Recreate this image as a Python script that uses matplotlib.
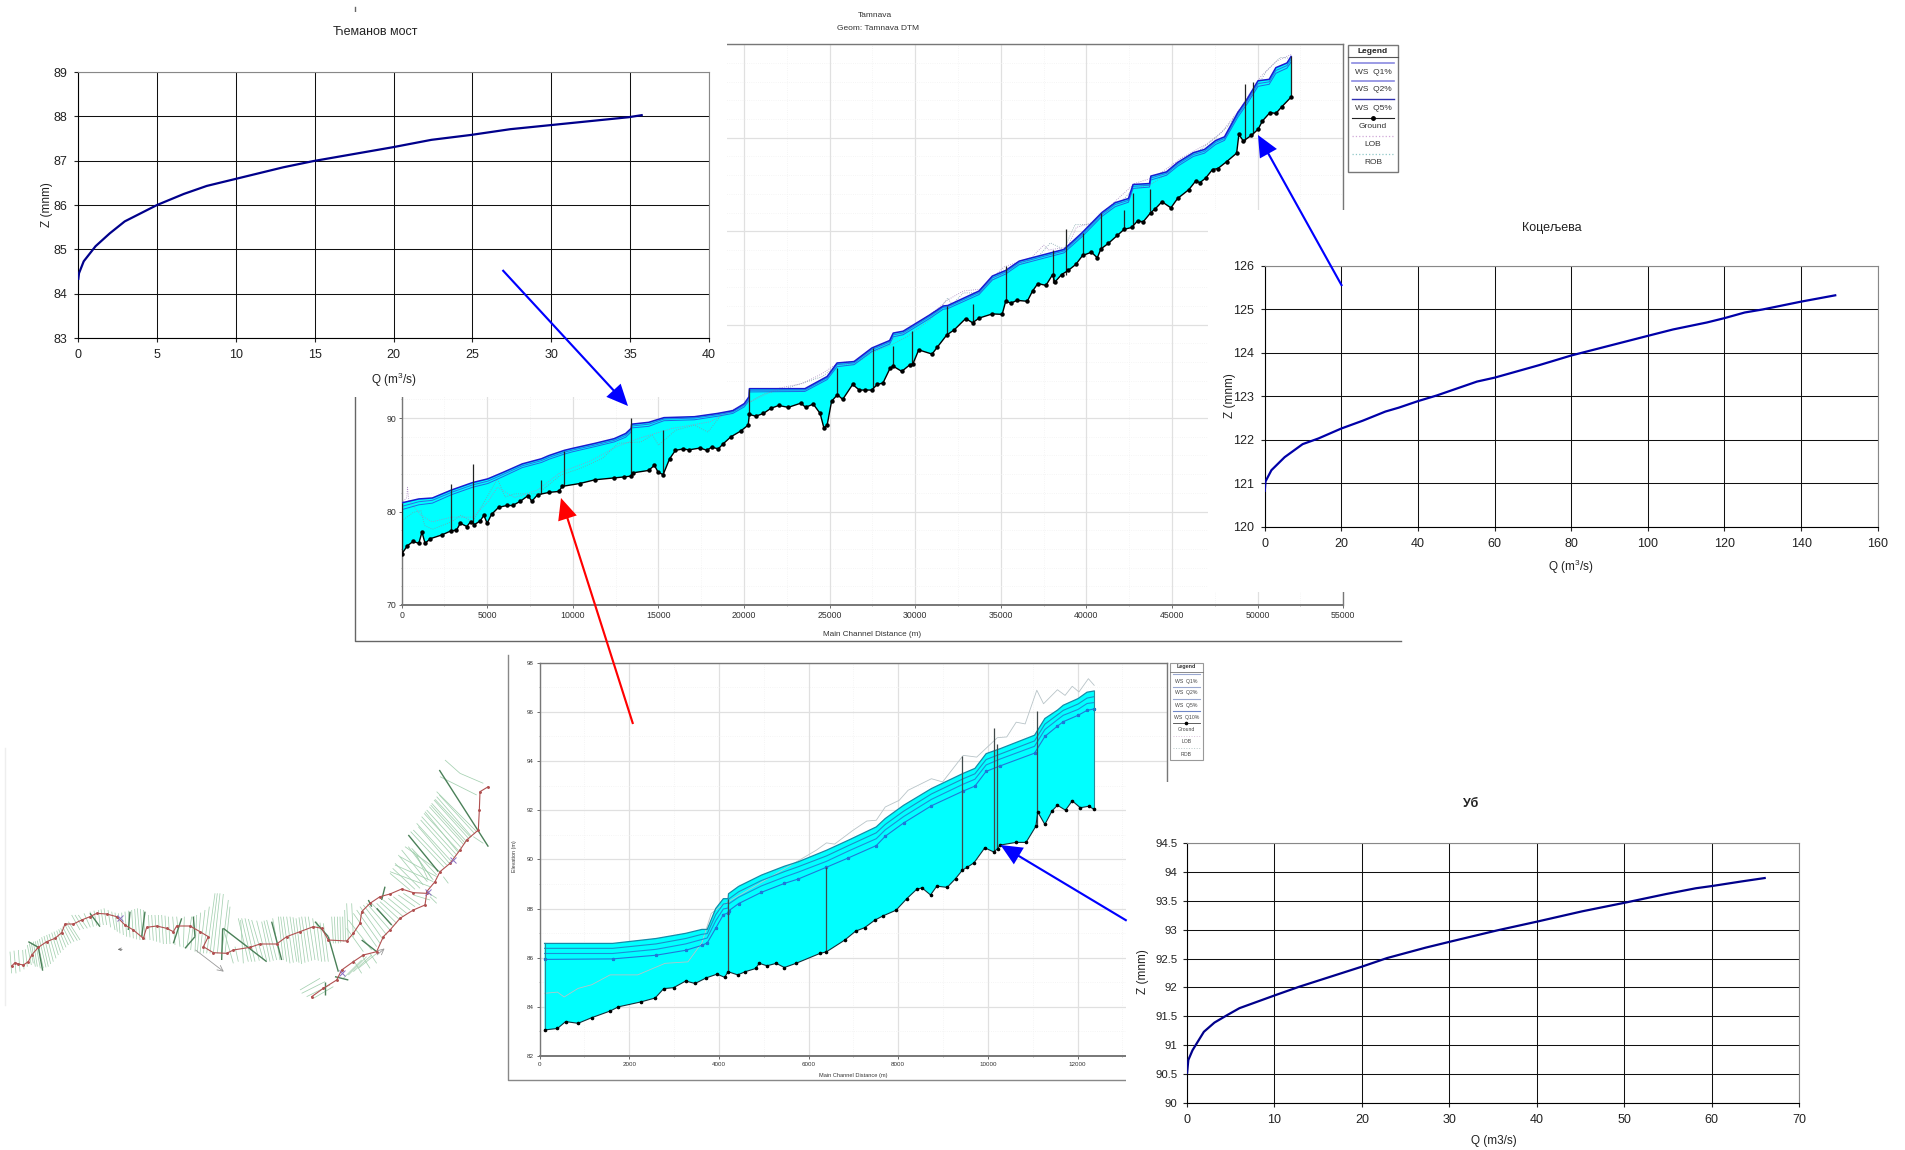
import matplotlib
matplotlib.use('Agg')
import matplotlib.pyplot as plt
from matplotlib.collections import LineCollection
from matplotlib.patches import Rectangle
from matplotlib.ticker import MultipleLocator
import numpy as np

plt.rcParams['font.family'] = ['Liberation Sans', 'DejaVu Sans']
plt.rcParams['mathtext.default'] = 'regular'

W, H = 1906, 1150

# rating curves
cem_q = [0, 0.05, 0.35, 1.1, 2, 2.95, 5, 6.7, 8.15, 10, 13, 14.9, 19.9, 22.4, 24.9, 27.4, 29.9, 34.9, 35.8]
cem_z = [84.31, 84.46, 84.73, 85.07, 85.36, 85.63, 86.0, 86.25, 86.43, 86.59, 86.85, 86.99, 87.3, 87.47, 87.58, 87.71, 87.8, 87.98, 88.03]
koc_q = [0, 0.2, 1.75, 5.2, 9.9, 14, 20, 25.6, 31.5, 35, 40, 44.9, 55.4, 60, 71.7, 80, 99.9, 106.6, 115.4, 120, 125.3, 130, 140, 149.2]
koc_z = [120.8, 121.04, 121.3, 121.6, 121.9, 122.03, 122.26, 122.44, 122.65, 122.74, 122.89, 123.02, 123.34, 123.43, 123.72, 123.94, 124.39, 124.54, 124.7, 124.8, 124.93, 125.0, 125.18, 125.33]
ub_q = [0, 0.15, 0.63, 1.93, 3.14, 4.6, 6, 10, 12.8, 20, 22.9, 27.3, 30, 35.5, 40, 45.2, 50.1, 54.8, 58.2, 60.1, 63.5, 66.2]
ub_z = [90.5, 90.74, 90.91, 91.23, 91.39, 91.52, 91.64, 91.86, 92.01, 92.36, 92.51, 92.69, 92.79, 92.99, 93.14, 93.32, 93.47, 93.62, 93.72, 93.76, 93.84, 93.9]

# Tamnava long profile
tam_ground_x = [0, 335, 670, 1000, 1185, 1365, 1680, 2350, 2900, 3200, 3420, 3800, 4025, 4250, 4585, 4800, 4990, 5250, 5660, 6150, 6485, 6930, 7380, 7600, 7940, 8610, 9170, 9390, 10400, 11290, 12410, 12970, 13420, 13530, 14425, 14760, 14980, 15270, 15650, 15990, 16440, 16770, 17440, 17820, 18110, 18490, 18780, 19230, 19790, 20240, 20305, 20680, 21130, 21570, 22020, 22580, 23320, 23590, 24040, 24440, 24660, 24850,
                25110, 25450, 25760, 26340, 26730, 27070, 27460, 27770, 28110, 28530, 28710, 29210, 29680, 29860, 30200, 30980, 31290, 31840, 32280, 32940, 33350, 33720, 34500, 35075, 35280, 35600, 35930, 36540, 36850, 37160, 37630, 38020, 38150, 38540, 38930, 39380, 39770, 40290, 40630, 40840, 41280, 41800, 42200, 42640, 42980, 43310, 43760, 44020, 44410, 44930, 45320, 45980, 46370, 46630, 46970, 47360, 47670, 48190, 48770, 48900, 49160, 49630, 50020, 50280, 50720, 51060, 51400, 51950]
tam_ground_z = [75.45, 76.35, 76.8, 76.6, 77.8, 76.6, 77.1, 77.5, 77.95, 78, 78.75, 78.4, 78.9, 78.6, 79, 79.6, 78.75, 79.7, 80.45, 80.65, 80.65, 81.1, 81.7, 81.1, 81.8, 82.05, 82.15, 82.7, 83, 83.4, 83.6, 83.7, 83.8, 84.15, 84.4, 84.95, 84.2, 83.95, 85.65, 86.55, 86.7, 86.6, 86.8, 86.55, 86.9, 86.7, 87.25, 88, 88.6, 89.25, 90.4, 90.2, 90.5, 91.05, 91.35, 91.15, 91.6, 91.15, 91.5, 90.5, 88.95, 89.25,
                91.8, 92.5, 92.0, 93.6, 93.0, 93.0, 93.0, 93.6, 93.75, 95.35, 95.55, 95, 95.7, 95.8, 97.3, 96.85, 97.6, 98.9, 99.45, 100.65, 100.2, 100.7, 101.15, 101.1, 102.5, 102.3, 102.6, 102.5, 103.6, 104.4, 104.2, 105.35, 104.55, 105.35, 105.8, 106.45, 107.4, 107.75, 107.15, 108.1, 108.7, 109.55, 110.2, 110.4, 111.1, 111, 112, 112.4, 113.15, 112.5, 113.5, 114.45, 115.35, 115.2, 115.7, 116.6, 116.7, 117.45, 118.35, 120.35, 119.65, 120.25, 120.9, 121.8, 122.7, 122.6, 123.3, 124.35]
tam_ws_x = [0, 1000, 1790, 2900, 4140, 5030, 5930, 7040, 8160, 8610, 9500, 9950, 11290, 12410, 13080, 13400, 13430, 14430, 14870, 15320, 17100, 18450, 19340, 20010, 20290, 20310, 23550, 24850, 25430, 26420, 27460, 28500, 28710, 29290, 30850, 31630, 31900, 33720, 34500, 35280, 36070, 37110, 38680, 39720, 40900, 41670, 42450, 42720, 43680, 43760, 44670, 45320, 46240, 46890, 47540, 48060, 48840, 49370, 50020, 50670, 51060, 51710, 51950]
tam_q1 = [80.93, 81.35, 81.45, 82.3, 83.1, 83.5, 84.2, 85.1, 85.65, 86, 86.55, 86.75, 87.3, 87.8, 88.35, 88.9, 89.35, 89.55, 89.8, 90.05, 90.15, 90.5, 90.8, 91.55, 92.3, 93.15, 93.15, 94.45, 95.9, 96.05, 97.5, 98.3, 99.1, 99.3, 101.05, 102, 102.05, 103.6, 105.2, 105.8, 106.8, 107.3, 108.05, 109.8, 112, 113.05, 113.5, 115, 115.1, 115.9, 116.35, 117.35, 118.4, 118.75, 119.7, 120.1, 122.7, 124.1, 126.1, 126.25, 127.5, 128, 128.7]
tam_q2 = [80.55, 81.05, 81.2, 82.05, 82.85, 83.25, 83.98, 84.9, 85.45, 85.8, 86.35, 86.57, 87.12, 87.62, 88.15, 88.7, 89.15, 89.35, 89.62, 89.9, 90.0, 90.36, 90.66, 91.38, 92.1, 92.98, 93.0, 94.3, 95.72, 95.9, 97.32, 98.12, 98.9, 99.12, 100.88, 101.85, 101.9, 103.42, 105.0, 105.62, 106.62, 107.12, 107.88, 109.6, 111.8, 112.85, 113.3, 114.8, 114.92, 115.7, 116.18, 117.15, 118.2, 118.55, 119.5, 119.92, 122.45, 123.85, 125.8, 125.98, 127.2, 127.72, 128.4]
tam_q5 = [80.2, 80.72, 80.9, 81.8, 82.6, 83.0, 83.75, 84.7, 85.25, 85.6, 86.15, 86.38, 86.95, 87.45, 87.95, 88.5, 88.95, 89.12, 89.42, 89.72, 89.82, 90.2, 90.5, 91.2, 91.9, 92.8, 92.85, 94.12, 95.5, 95.72, 97.12, 97.92, 98.7, 98.92, 100.68, 101.65, 101.72, 103.22, 104.78, 105.42, 106.42, 106.92, 107.68, 109.38, 111.58, 112.62, 113.1, 114.58, 114.72, 115.48, 115.98, 116.95, 118, 118.35, 119.28, 119.72, 122.2, 123.6, 125.5, 125.72, 126.9, 127.45, 128.1]
tam_rob_x = [0, 670, 1120, 1340, 1790, 2900, 3460, 4140, 5030, 5590, 6040, 6600, 7940, 9280, 10400, 11740, 12630, 13970, 14650, 15000, 16000, 17100, 17890, 18560, 19340, 20200, 20680, 21200, 22500, 24590, 25430, 26420, 27460, 28630, 29540, 30850, 31500, 31890, 32150, 32800, 33720, 34500, 35800, 37110, 37890, 38680, 39330, 40240, 41020, 41800, 42720, 43760, 44670, 45450, 46500, 47540, 48190, 48970, 49620, 50540, 51320, 51950]
tam_rob_z = [79, 79.9, 80.1, 78.5, 78.1, 78.9, 79.6, 78.9, 81.7, 83.5, 81.55, 81.9, 81.9, 83.9, 84.6, 85.7, 87.3, 87.45, 88.2, 87.1, 88.7, 89.25, 88.5, 90.1, 90.8, 91.5, 92.1, 92.6, 93.2, 94.45, 95.7, 95.7, 97, 97.85, 98.75, 100.5, 101.8, 102.85, 102.15, 103.4, 103.4, 104.8, 106.25, 107.15, 108.75, 108.05, 110.7, 110.7, 112, 112.7, 114.5, 115, 116.1, 117.5, 118.5, 120, 121.1, 123, 124.5, 127.2, 128.6, 128.5]
tam_lob_x = [0, 300, 335, 420, 1120, 1790, 2900, 4140, 5030, 5590, 6600, 7940, 9280, 11000, 12630, 13970, 15800, 18000, 19340, 20400, 22000, 23400, 24500, 25500, 26500, 27500, 28800, 30000, 31300, 31850, 32800, 33800, 35200, 36800, 37500, 37800, 38900, 39400, 40300, 41200, 42800, 44000, 45600, 47000, 47900, 49000, 50200, 51100, 51950]
tam_lob_z = [80.9, 81.5, 82.6, 81.2, 79.6, 78.9, 79.4, 79.4, 81, 82.6, 81.5, 82.3, 84.2, 85.4, 87, 87.9, 88.9, 89.6, 90.9, 91.8, 93.2, 93.7, 94.7, 95.9, 96.1, 97.4, 98.5, 99.9, 101.7, 102.6, 103.6, 103.8, 106.2, 107.2, 108.5, 108, 108.3, 110.4, 110.9, 112.4, 115.1, 115.8, 117.9, 119.3, 120.6, 123.2, 126.6, 128.2, 128.9]
tam_bridge_x = [0, 2900, 4140, 8160, 9470, 13420, 15270, 20300, 25450, 27510, 28710, 29810, 31840, 33380, 35280, 38070, 38830, 39770, 40840, 42200, 42690, 43730, 49240, 49700, 51950]
tam_bridge_lo = [75.5, 78, 78.8, 81.85, 82.7, 83.8, 84, 90.4, 92.5, 93, 95.5, 95.9, 98.9, 100.2, 102.5, 104.5, 105.35, 107.5, 108, 110.2, 110.4, 112.15, 119.65, 120.4, 124.35]
tam_bridge_hi = [80.9, 82.97, 85.1, 83.4, 86.5, 90, 88.7, 93.1, 95.36, 97.5, 97.7, 99.3, 102, 102.25, 106.3, 108, 110.2, 109.8, 112, 112.3, 114.1, 114.5, 125.7, 126, 128.7]

# lower reach long profile
low_ground_x = [113, 400, 583, 860, 1166, 1575, 1760, 2260, 2580, 2770, 2990, 3260, 3470, 3720, 3960, 4130, 4205, 4420, 4590, 4820, 4900, 5075, 5280, 5460, 5720, 6250, 6400, 6810, 7050, 7250, 7480, 7660, 7950, 8190, 8410, 8530, 8720, 8860, 9090, 9280, 9430, 9530, 9690, 9930, 10130, 10220, 10270, 10630, 10850, 11070, 11110, 11270, 11430, 11550, 11730, 11880, 12060, 12250, 12370]
low_ground_z = [83.06, 83.12, 83.4, 83.33, 83.56, 83.83, 84.0, 84.2, 84.36, 84.74, 84.78, 85.05, 84.95, 85.18, 85.33, 85.2, 85.43, 85.3, 85.43, 85.56, 85.77, 85.67, 85.77, 85.6, 85.77, 86.17, 86.24, 86.72, 87.08, 87.22, 87.53, 87.7, 87.93, 88.4, 88.78, 88.84, 88.55, 88.91, 88.86, 89.22, 89.56, 89.67, 89.86, 90.47, 90.3, 90.44, 90.58, 90.69, 90.69, 91.35, 91.93, 91.42, 91.97, 92.2, 92, 92.38, 92.1, 92.16, 92.03]
low_ws_x = [113, 1630, 2600, 3260, 3620, 3740, 3930, 4100, 4205, 4215, 4440, 4950, 5460, 5770, 6400, 6890, 7510, 7710, 8120, 8740, 9450, 9710, 9960, 10270, 11040, 11270, 11550, 11680, 12010, 12210, 12370]
low_q1 = [86.58, 86.58, 86.78, 86.99, 87.15, 87.15, 88.0, 88.4, 88.4, 88.6, 88.9, 89.36, 89.72, 89.9, 90.37, 90.78, 91.32, 91.66, 92.2, 92.88, 93.5, 93.7, 94.3, 94.5, 95.05, 95.73, 96.07, 96.27, 96.54, 96.8, 96.85]
low_q2 = [86.38, 86.38, 86.56, 86.78, 86.95, 86.98, 87.75, 88.18, 88.22, 88.38, 88.68, 89.14, 89.5, 89.7, 90.14, 90.56, 91.08, 91.42, 91.96, 92.66, 93.28, 93.48, 94.06, 94.28, 94.82, 95.5, 95.88, 96.06, 96.32, 96.56, 96.62]
low_q5 = [86.17, 86.17, 86.34, 86.56, 86.74, 86.8, 87.5, 87.98, 88.02, 88.18, 88.46, 88.92, 89.28, 89.48, 89.92, 90.34, 90.84, 91.2, 91.74, 92.44, 93.06, 93.26, 93.84, 94.08, 94.6, 95.28, 95.68, 95.86, 96.1, 96.34, 96.38]
low_q10 = [85.93, 85.95, 86.1, 86.3, 86.5, 86.6, 87.2, 87.75, 87.82, 87.9, 88.2, 88.66, 89.02, 89.2, 89.68, 90.06, 90.56, 90.94, 91.48, 92.18, 92.78, 92.98, 93.58, 93.8, 94.32, 95.0, 95.42, 95.6, 95.86, 96.06, 96.12]
low_lob_x = [113, 400, 550, 860, 1166, 1575, 2190, 2800, 3310, 3620, 3830, 4000, 6170, 6400, 6580, 6990, 7300, 7510, 7710, 8020, 8220, 8740, 8990, 9450, 9750, 10210, 10420, 10630, 10830, 11090, 11240, 11550, 11720, 11880, 12030, 12240, 12370]
low_lob_z = [84.55, 84.6, 84.4, 84.75, 84.9, 85.3, 85.3, 85.77, 85.83, 86.6, 87.8, 88.05, 90.37, 90.67, 90.62, 91.18, 91.56, 91.59, 92.13, 92.4, 92.81, 93.28, 93.15, 94.23, 94.16, 94.95, 94.98, 95.58, 95.51, 96.88, 96.33, 96.9, 96.67, 97.04, 96.81, 97.35, 97.08]
low_bridge_x = [4205, 6400, 9430, 10140, 10210, 11090]
low_bridge_lo = [85.36, 86.24, 89.56, 90.3, 90.44, 91.35]
low_bridge_hi = [88.4, 89.7, 94.2, 95.36, 94.71, 96.03]

# plan view of the river, in map units
river_x = [35, 45, 55, 70, 85, 95, 115, 140, 165, 185, 195, 220, 245, 270, 290, 320, 350, 375, 400, 430, 440, 470, 500, 520, 530, 570, 600, 625, 610, 640, 680, 700, 750, 780, 830, 860, 900, 940, 965, 985, 1040, 1060, 1080, 1085, 1110, 1140, 1170, 1205, 1240, 1280, 1275, 1240, 1200, 1170, 1150, 1130, 1090, 1060, 1025, 1010, 970, 935]
river_y = [678, 668, 672, 675, 665, 645, 622, 605, 595, 578, 552, 552, 540, 530, 520, 522, 530, 555, 570, 595, 562, 558, 565, 575, 558, 558, 575, 590, 620, 638, 640, 630, 622, 612, 612, 590, 575, 560, 565, 600, 603, 580, 550, 515, 490, 470, 462, 447, 458, 460, 495, 510, 535, 570, 590, 635, 645, 665, 690, 720, 745, 770]
branch_x = [1280, 1305, 1320, 1350, 1380, 1400, 1435, 1438, 1440, 1465]
branch_y = [455, 425, 395, 370, 330, 300, 270, 210, 155, 140]
sections = [(35, 700, 30, 635), (48, 700, 42, 632), (60, 695, 55, 630), (72, 688, 68, 630), (82, 680, 76, 628),
            (100, 670, 88, 610), (112, 680, 100, 605), (130, 685, 112, 602), (145, 680, 125, 592), (160, 665, 140, 585),
            (175, 645, 155, 578), (190, 630, 170, 572), (205, 615, 182, 565), (222, 605, 195, 555), (240, 600, 205, 545),
            (240, 570, 215, 525), (262, 565, 235, 525), (280, 560, 270, 515), (300, 555, 295, 510), (320, 555, 312, 505),
            (345, 570, 335, 515), (360, 580, 355, 520), (380, 590, 375, 515), (400, 595, 395, 510), (420, 600, 412, 505),
            (435, 600, 430, 510), (450, 600, 445, 525), (470, 605, 465, 525), (490, 612, 485, 525), (510, 612, 505, 530),
            (540, 620, 530, 530), (560, 625, 575, 530), (585, 635, 590, 525), (600, 640, 615, 510), (620, 640, 645, 460),
            (640, 640, 660, 460), (665, 640, 685, 480), (700, 670, 670, 565), (715, 665, 705, 620), (745, 665, 715, 535),
            (765, 665, 735, 535), (790, 660, 755, 540), (810, 665, 785, 545), (830, 660, 800, 540), (850, 660, 835, 530),
            (870, 670, 850, 530), (890, 665, 870, 530), (905, 672, 888, 535), (925, 665, 905, 530), (945, 660, 925, 530),
            (965, 665, 950, 545), (985, 665, 970, 550), (1000, 610, 995, 530), (1015, 610, 1012, 530), (1030, 605, 1028, 530),
            (1045, 600, 1040, 490), (1060, 590, 1055, 490), (1060, 520, 1130, 620), (1080, 500, 1150, 600), (1100, 490, 1170, 570),
            (1130, 490, 1190, 550), (1150, 480, 1210, 530), (1180, 470, 1230, 510), (1210, 460, 1260, 495), (1240, 465, 1290, 480),
            (1045, 705, 1100, 650), (1060, 695, 1115, 645), (1075, 685, 1130, 640), (1030, 715, 1085, 660),
            (900, 750, 960, 715), (905, 760, 975, 725), (920, 770, 990, 735), (940, 775, 1000, 740),
            (1240, 270, 1340, 375), (1250, 250, 1355, 365), (1265, 230, 1370, 345), (1280, 210, 1385, 325), (1295, 190, 1400, 305),
            (1310, 170, 1415, 290), (1310, 155, 1430, 275), (1255, 260, 1348, 370), (1272, 220, 1378, 335), (1288, 200, 1392, 315),
            (1302, 180, 1408, 298), (1320, 110, 1430, 165), (1335, 60, 1380, 100), (1380, 100, 1450, 130),
            (1170, 395, 1290, 440), (1185, 375, 1300, 425), (1200, 350, 1310, 410), (1215, 320, 1320, 395),
            (1225, 320, 1300, 420), (1240, 335, 1295, 415), (1250, 345, 1285, 420), (1235, 325, 1310, 405),
            (94, 675, 82, 615), (106, 680, 94, 608), (121, 685, 106, 604), (138, 682, 118, 597), (152, 672, 132, 588),
            (168, 655, 147, 582), (182, 638, 162, 575), (198, 622, 176, 568), (213, 610, 188, 560), (232, 602, 200, 550),
            (251, 567, 225, 525), (271, 562, 252, 520), (290, 557, 282, 512), (310, 555, 303, 508), (332, 562, 324, 510),
            (352, 575, 345, 518), (370, 585, 365, 518), (390, 592, 385, 512), (410, 598, 404, 507), (428, 600, 421, 507),
            (460, 602, 455, 525), (480, 608, 475, 525), (500, 612, 495, 527), (525, 615, 518, 530), (550, 622, 553, 530),
            (572, 630, 582, 528), (592, 638, 602, 518), (610, 640, 628, 500), (630, 640, 652, 460), (652, 640, 670, 462),
            (675, 640, 690, 500), (730, 670, 722, 540), (755, 665, 725, 535), (778, 662, 745, 537), (800, 662, 770, 542),
            (820, 662, 792, 542), (840, 660, 818, 535), (860, 665, 842, 530), (880, 668, 860, 530), (897, 668, 879, 532),
            (915, 668, 897, 532), (935, 662, 915, 530), (955, 662, 938, 535), (975, 665, 960, 548), (1007, 610, 1003, 530),
            (1022, 608, 1020, 530), (1037, 603, 1034, 510), (1070, 510, 1140, 610), (1090, 495, 1160, 585), (1115, 490, 1180, 560),
            (1140, 485, 1200, 540), (1165, 475, 1220, 520), (1195, 465, 1245, 500), (1045, 540, 1115, 630), (1040, 565, 1090, 635),
            (1060, 660, 1085, 700), (1085, 645, 1110, 685), (1110, 640, 1130, 670), (1262, 240, 1362, 352), (1275, 215, 1375, 338),
            (1292, 195, 1396, 310), (1305, 178, 1412, 292), (1318, 165, 1425, 282), (1232, 275, 1332, 382), (1195, 345, 1270, 435),
            (1185, 370, 1260, 445), (1170, 400, 1230, 450), (1178, 385, 1245, 448), (1205, 330, 1282, 425), (1280, 455, 1310, 475),
            (1330, 410, 1345, 430), (1420, 290, 1450, 310), (1290, 470, 1310, 490)]
bridge_sections = [(85, 605, 115, 622), (115, 622, 128, 692), (270, 520, 300, 560), (390, 515, 385, 570), (435, 515, 425, 590),
                   (545, 535, 520, 610), (580, 530, 585, 590), (585, 590, 555, 625), (670, 565, 800, 665), (668, 565, 665, 660),
                   (815, 545, 845, 660), (945, 545, 985, 590), (985, 590, 1015, 695), (1130, 505, 1175, 555), (1155, 440, 1145, 480),
                   (1225, 285, 1315, 395), (1318, 90, 1465, 320), (1105, 480, 1115, 500), (975, 725, 975, 765), (1005, 710, 1045, 720),
                   (1085, 600, 1130, 635)]
map_spots_x = [360, 1360, 1025, 1285]
map_spots_y = [535, 360, 700, 455]

# legend labels
tam_legend = ['WS  Q1%', 'WS  Q2%', 'WS  Q5%', 'Ground', 'LOB', 'ROB']
low_legend = ['WS  Q1%', 'WS  Q2%', 'WS  Q5%', 'WS  Q10%', 'Ground', 'LOB', 'ROB']


fig = plt.figure(figsize=(W / 100, H / 100), dpi=100)


def px_axes(x0, y0, x1, y1, z):
    ax = fig.add_axes([x0 / W, 1 - y1 / H, (x1 - x0) / W, (y1 - y0) / H])
    ax.set_zorder(z)
    return ax


def rating_chart(box, q, z, xlim, ylim, xstep, ystep, title, title_xy, xlabel, xlabel_xy, ylabel, ylabel_xy, bold=False, color='#00008b'):
    x0, y0, x1, y1 = box
    ax = px_axes(x0, y0, x1, y1, 3)
    ax.plot(q, z, color=color, lw=1.6, solid_capstyle='butt', zorder=3)
    ax.set_xlim(xlim)
    ax.set_ylim(ylim)
    ax.xaxis.set_major_locator(MultipleLocator(xstep))
    ax.yaxis.set_major_locator(MultipleLocator(ystep))
    ax.yaxis.set_major_formatter(lambda v, pos: f'{v:g}')
    ax.grid(True, color='#111111', lw=0.75)
    ax.set_axisbelow(True)
    ax.tick_params(labelsize=9, length=3, width=0.8, pad=5, color='#222222', labelcolor='#222222')
    for s in ['top', 'right']:
        ax.spines[s].set_color('#888888')
    for s in ['left', 'bottom']:
        ax.spines[s].set_color('black')
    ax.set_title(title, fontsize=9, x=(title_xy[0] - x0) / (x1 - x0), y=(y1 - title_xy[1]) / (y1 - y0),
                 va='center', pad=0, color='#222222', fontweight='bold' if bold else 'normal')
    ax.set_xlabel(xlabel, fontsize=8.5, color='#222222')
    ax.xaxis.set_label_coords((xlabel_xy[0] - x0) / (x1 - x0), (y1 - xlabel_xy[1]) / (y1 - y0))
    ax.xaxis.label.set_va('center')
    ax.set_ylabel(ylabel, fontsize=8.5, color='#222222')
    ax.yaxis.set_label_coords((ylabel_xy[0] + 3 - x0) / (x1 - x0), (y1 - ylabel_xy[1]) / (y1 - y0))
    ax.yaxis.label.set_va('center')
    return ax


def profile_chart(box, xlim, ylim, xstep, xminor, ystep, yminor, font, xlabel_xy, label_font):
    x0, y0, x1, y1 = box
    ax = px_axes(x0, y0, x1, y1, 1)
    ax.set_xlim(xlim)
    ax.set_ylim(ylim)
    ax.xaxis.set_major_locator(MultipleLocator(xstep))
    ax.xaxis.set_minor_locator(MultipleLocator(xminor))
    ax.yaxis.set_major_locator(MultipleLocator(ystep))
    ax.yaxis.set_minor_locator(MultipleLocator(yminor))
    ax.grid(True, which='major', color='#e0e0e0', lw=0.9)
    ax.grid(True, which='minor', color='#f2f2f2', lw=0.6, ls=':')
    ax.set_axisbelow(True)
    ax.tick_params(which='major', labelsize=font, length=2, width=0.6, pad=2, color='#555555', labelcolor='#333333')
    ax.tick_params(which='minor', length=1, width=0.4, color='#777777')
    for s in ax.spines.values():
        s.set_color('#777777')
        s.set_linewidth(1)
    ax.spines['bottom'].set_linewidth(1.4)
    ax.set_xlabel('Main Channel Distance (m)', fontsize=label_font, color='#333333')
    ax.xaxis.set_label_coords((xlabel_xy[0] - x0) / (x1 - x0), (y1 - xlabel_xy[1]) / (y1 - y0))
    ax.xaxis.label.set_va('center')
    return ax


# upper profile
tam = profile_chart((401.7, 44.3, 1343.3, 605), (0, 55000), (70, 130), 5000, 2500, 10, 2, 6.3, (872, 634), 5.9)
tam.fill(np.r_[tam_ws_x, tam_ground_x[::-1]], np.r_[tam_q1, tam_ground_z[::-1]], color='#00ffff', lw=0, zorder=2)
tam.plot(tam_rob_x, tam_rob_z, color='#7a9fa8', lw=0.6, ls=':', zorder=3)
tam.plot(tam_lob_x, tam_lob_z, color='#a98ac0', lw=0.6, ls=':', zorder=3)
tam.plot(tam_ws_x, tam_q5, color='#1e6ae6', lw=0.7, zorder=4)
tam.plot(tam_ws_x, tam_q2, color='#2a6fe8', lw=0.7, zorder=4)
tam.plot(tam_ws_x, tam_q1, color='#1a1ad0', lw=1.1, zorder=4)
tam.vlines(tam_bridge_x, tam_bridge_lo, tam_bridge_hi, color='#222222', lw=0.9, zorder=5)
tam.plot(tam_ground_x, tam_ground_z, color='black', lw=1, marker='o', ms=2.2, zorder=6)

# lower profile
low = profile_chart((539.5, 662.7, 1167.3, 1056), (0, 14000), (82, 98), 2000, 1000, 2, 1, 4.5, (853.5, 1076), 4.1)
low.fill(np.r_[low_ws_x, low_ground_x[::-1]], np.r_[low_q1, low_ground_z[::-1]], color='#00ffff', lw=0, zorder=2)
low.plot(low_lob_x, low_lob_z, color='#b8c4c8', lw=0.6, zorder=3)
low.plot(low_ws_x, low_q1, color='#158aa8', lw=0.9, zorder=4)
low.plot(low_ws_x, low_q2, color='#1c90c8', lw=0.8, zorder=4)
low.plot(low_ws_x, low_q5, color='#1c90d8', lw=0.8, zorder=4)
low.plot(low_ws_x, low_q10, color='#1f78d8', lw=0.8, marker='*', ms=2.2, zorder=4)
low.vlines(low_bridge_x, low_bridge_lo, low_bridge_hi, color='#404848', lw=0.9, zorder=5)
low.plot(low_ground_x, low_ground_z, color='#10303a', lw=0.8, marker='o', ms=1.6, mfc='black', mec='black', zorder=6)
low.plot([low_ws_x[-1], low_ground_x[-1]], [low_q1[-1], low_ground_z[-1]], color='#2a8a98', lw=0.8, zorder=5)
low.plot([low_ws_x[0], low_ground_x[0]], [low_q1[0], low_ground_z[0]], color='#2a8a98', lw=0.8, zorder=5)
low.set_ylabel('Elevation (m)', fontsize=3.8, color='#333333')
low.yaxis.set_label_coords((514.7 - 539.5) / 627.8, (1056 - 856) / 393.3)
low.yaxis.label.set_va('center')

# river plan
plan = px_axes(0, 740, 510, 1020, 1)
plan.set_xlim(0, 1530)
plan.set_ylim(840, 0)
plan.axis('off')
plan.add_collection(LineCollection([[(a, b), (c, d)] for a, b, c, d in sections], colors='#a4d0b0', linewidths=0.55))
plan.add_collection(LineCollection([[(a, b), (c, d)] for a, b, c, d in bridge_sections], colors='#4a8058', linewidths=1))
plan.plot(river_x, river_y, color='#b05050', lw=0.8, marker='o', ms=1.1)
plan.plot(branch_x, branch_y, color='#b05050', lw=0.8, marker='o', ms=1.1)
plan.plot(map_spots_x, map_spots_y, ls='none', marker='x', ms=4, color='#8a70c0', mew=0.7)
plan.annotate('', xy=(678, 700), xytext=(580, 625), arrowprops=dict(arrowstyle='->', color='#999999', lw=0.6))
plan.annotate('', xy=(1160, 620), xytext=(1125, 650), arrowprops=dict(arrowstyle='->', color='#999999', lw=0.6))
plan.annotate('', xy=(345, 628), xytext=(375, 628), arrowprops=dict(arrowstyle='->', color='#666666', lw=0.5, mutation_scale=5))

# frames, white cover pieces and legends, in picture pixels
cover = px_axes(0, 0, W, H, 2)
cover.set_xlim(0, W)
cover.set_ylim(H, 0)
cover.axis('off')
cover.plot([355, 355, 1401], [7, 641, 641], color='#666666', lw=1, zorder=1)
cover.plot([508, 508, 1126], [655, 1080, 1080], color='#888888', lw=1, zorder=1)
cover.plot([5, 5], [748, 1005], color='#eeeeee', lw=1, zorder=1)
for x, y, w, h in [(0, 12, 727, 385), (1208, 210, 698, 382), (1126, 782, 780, 368)]:
    cover.add_patch(Rectangle((x, y), w, h, fc='white', ec='none', zorder=2))

cover.text(874.5, 15.7, 'Tamnava', fontsize=6, ha='center', va='center', color='#333333', zorder=3)
cover.text(878.5, 28.7, 'Geom: Tamnava DTM', fontsize=6, ha='center', va='center', color='#333333', zorder=3)

# upper legend
cover.add_patch(Rectangle((1348, 44.5), 50, 127.5, fc='white', ec='#777777', lw=1, zorder=3))
cover.plot([1348, 1398], [57.3, 57.3], color='#555555', lw=0.8, zorder=4)
cover.text(1373, 51.5, 'Legend', fontsize=6, fontweight='bold', ha='center', va='center', color='#222222', zorder=4)
tam_line_y = [62.7, 80.7, 99.3, 117.7, 135.7, 154]
tam_text_y = [72, 89.5, 108.7, 127, 144, 163]
tam_styles = [('#8a8ae0', '-', 1.2), ('#8a8ae0', '-', 1.2), ('#3030b0', '-', 1), ('#222222', '-', 0.8), ('#d0a8d8', ':', 0.9), ('#90c8c8', ':', 0.9)]
for name, ly, ty, (c, ls, lw) in zip(tam_legend, tam_line_y, tam_text_y, tam_styles):
    cover.plot([1352, 1394], [ly, ly], color=c, ls=ls, lw=lw, zorder=4)
    cover.text(1373, ty, name, fontsize=6, ha='center', va='center', color='#333333', zorder=4)
cover.plot([1373], [117.7], marker='o', ms=2.5, color='black', zorder=5)

# lower legend
cover.add_patch(Rectangle((1170, 662.7), 33, 97.3, fc='white', ec='#999999', lw=0.8, zorder=3))
cover.plot([1170, 1203], [671.7, 671.7], color='#777777', lw=0.6, zorder=4)
cover.text(1186.5, 666.8, 'Legend', fontsize=3.9, fontweight='bold', ha='center', va='center', color='#333333', zorder=4)
low_line_y = [674.3, 686.7, 699.3, 711, 723.3, 736, 747.7]
low_text_y = [681, 692.7, 705, 717.7, 729.3, 741.3, 754]
low_styles = [('#9aa8d0', '-', 0.8), ('#9aa8d0', '-', 0.8), ('#9aa8d0', '-', 0.8), ('#7088c8', '-', 0.8), ('#444444', '-', 0.6), ('#d8c0d8', ':', 0.7), ('#b8c8c8', ':', 0.7)]
for name, ly, ty, (c, ls, lw) in zip(low_legend, low_line_y, low_text_y, low_styles):
    cover.plot([1173, 1200], [ly, ly], color=c, ls=ls, lw=lw, zorder=4)
    cover.text(1186.5, ty, name, fontsize=3.7, ha='center', va='center', color='#444444', zorder=4)
cover.plot([1186.5], [723.3], marker='o', ms=1.6, color='black', zorder=5)

# rating curves on top
rating_chart((78.2, 72, 709, 338), cem_q, cem_z, (0, 40), (83, 89), 5, 1, 'Ћеманов мост', (375, 32),
             'Q (m$^3$/s)', (394, 380), 'Z (mnm)', (44, 205))
rating_chart((1264.7, 266, 1877.7, 526.7), koc_q, koc_z, (0, 160), (120, 126), 20, 1, 'Коцељева', (1552, 228),
             'Q (m$^3$/s)', (1571, 567), 'Z (mnm)', (1227, 396), color='#0000a8')
ub = rating_chart((1187, 843.3, 1799, 1102.7), ub_q, ub_z, (0, 70), (90, 94.5), 10, 0.5, 'Уб', (1471, 804),
                  'Q (m3/s)', (1494, 1141), 'Z (mnm)', (1140, 972), bold=True)
ub.tick_params(axis='y', labelsize=8.2, pad=4)

# arrows between the charts
arrows = px_axes(0, 0, W, H, 4)
arrows.set_xlim(0, W)
arrows.set_ylim(H, 0)
arrows.axis('off')
arrow_style = 'simple,head_length=1.1,head_width=1.0,tail_width=0.11'
for tail, tip, col in [((502.5, 270), (628, 406), '#0000ff'), ((1342, 286), (1258, 135), '#0000ff'),
                       ((633, 724), (561, 498), '#ff0000'), ((1126.7, 920.7), (1000.5, 845), '#0000ff')]:
    arrows.annotate('', xy=tip, xytext=tail,
                    arrowprops=dict(arrowstyle=arrow_style, color=col, lw=0, shrinkA=0, shrinkB=0, mutation_scale=14))

fig.savefig('out.png', dpi=100)
